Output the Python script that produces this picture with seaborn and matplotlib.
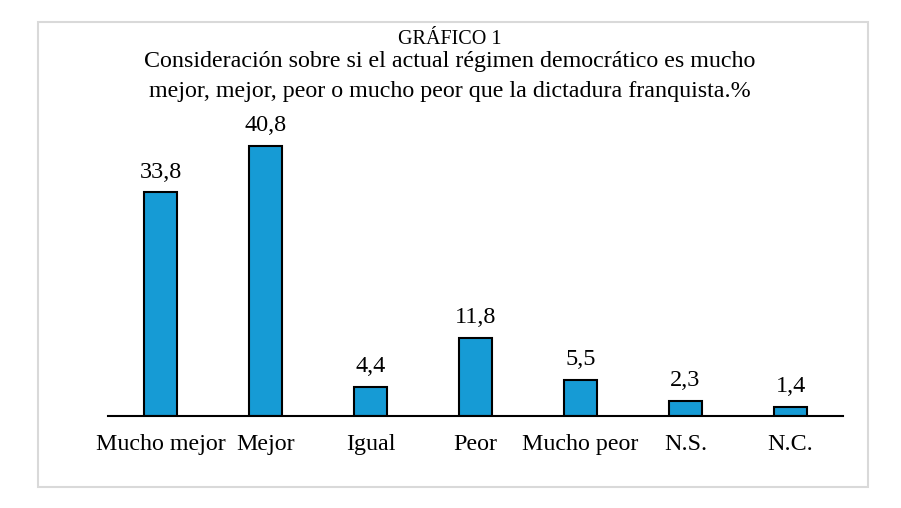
import seaborn as sns
import matplotlib.pyplot as plt
from matplotlib.patches import Rectangle

categorias = ["Mucho mejor", "Mejor", "Igual", "Peor", "Mucho peor", "N.S.", "N.C."]
porcentajes = [33.8, 40.8, 4.4, 11.8, 5.5, 2.3, 1.4]

sns.set_style("white")
plt.rcParams["font.family"] = ["Liberation Serif", "DejaVu Serif"]
plt.rcParams["text.color"] = "black"
plt.rcParams["xtick.color"] = "black"

W, H = 901, 508
fig = plt.figure(figsize=(W / 100, H / 100), dpi=100)
ax = fig.add_axes([108 / W, (H - 416) / H, (843 - 108) / W, 316 / H])

sns.barplot(x=categorias, y=porcentajes, color="#169BD5", edgecolor="black",
            linewidth=1.5, width=0.32, saturation=1, ax=ax)

etiquetas = [f"{v:.1f}".replace(".", ",") for v in porcentajes]
ax.bar_label(ax.containers[0], labels=etiquetas, padding=7, fontsize=17.5)

ax.set_xlim(-0.5, len(categorias) - 0.5)
ax.set_ylim(0, 316 / 6.62)
ax.set_yticks([])
ax.set_xlabel("")
ax.set_ylabel("")
ax.tick_params(axis="x", length=0, labelsize=17.3, pad=13)
for lado in ["top", "right", "left"]:
    ax.spines[lado].set_visible(False)
ax.spines["bottom"].set_color("black")
ax.spines["bottom"].set_linewidth(1.5)

# marco gris alrededor del gráfico
fig.patches.append(Rectangle((38 / W, (H - 487) / H), (868 - 38) / W, (487 - 22) / H,
                             transform=fig.transFigure, fill=False,
                             edgecolor="#d9d9d9", linewidth=1.5))

fig.text(450 / W, 1 - 40 / H, "GRÁFICO 1", ha="center", va="center", fontsize=14.5)
fig.text(450 / W, 1 - 62 / H,
         "Consideración sobre si el actual régimen democrático es mucho",
         ha="center", va="center", fontsize=17.3)
fig.text(450 / W, 1 - 92 / H,
         "mejor, mejor, peor o mucho peor que la dictadura franquista.%",
         ha="center", va="center", fontsize=17.3)

fig.savefig("out.png", dpi=100)
